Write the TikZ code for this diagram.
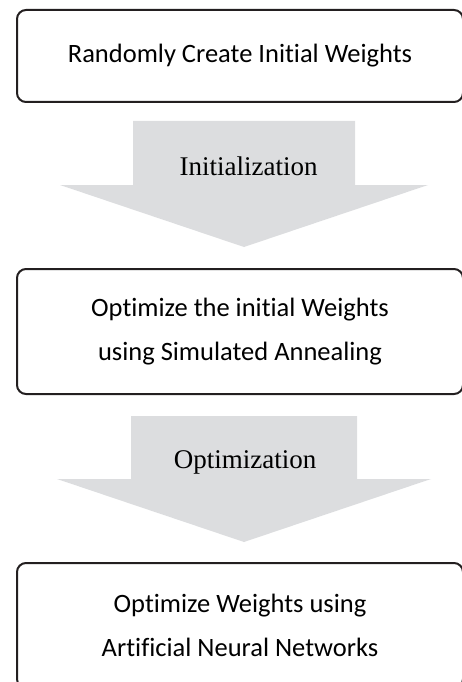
\documentclass[tikz,border=0pt]{standalone}
\usepackage{fontspec}
\setmainfont{Liberation Serif}
\newfontfamily\boxfont[Ligatures=NoCommon]{Carlito}
\usepackage{tikz}
\usetikzlibrary{positioning, calc}
\definecolor{flowgray}{RGB}{220,221,223}
\definecolor{edgeblack}{RGB}{35,31,32}

\begin{document}
\begin{tikzpicture}[x=1pt, y=-1pt,
    stage/.style={draw=edgeblack, line width=2pt, rounded corners=9pt,
        minimum width=446pt, align=center,
        font=\boxfont\fontsize{26.5}{44}\selectfont},
    flow/.style={fill=flowgray},
    flowlabel/.style={anchor=base, font=\fontsize{27}{30}\selectfont}]
    \useasboundingbox (0,0) rectangle (462,682);

    \node[stage, minimum height=92pt] (create) at (240,56) {Randomly Create Initial Weights};
    \node[stage, minimum height=125pt] (anneal) at (240,331.5) {Optimize the initial Weights\\using Simulated Annealing};
    \node[stage, minimum height=125pt] (ann) at (240,625.5) {Optimize Weights using\\Artificial Neural Networks};

    % block arrows between the stages
    \fill[flow] (133,121) -- (355,121) -- (355,185) -- (428,185) -- (244,247)
        -- (60,185) -- (133,185) -- cycle;
    \node[flowlabel] (init) at (248.5,175) {Initialization};

    \fill[flow] (131,416) -- (357,416) -- (357,479) -- (431,479) -- (244,542)
        -- (57,479) -- (131,479) -- cycle;
    \node[flowlabel] (optim) at (245,468) {Optimization};
\end{tikzpicture}
\end{document}
